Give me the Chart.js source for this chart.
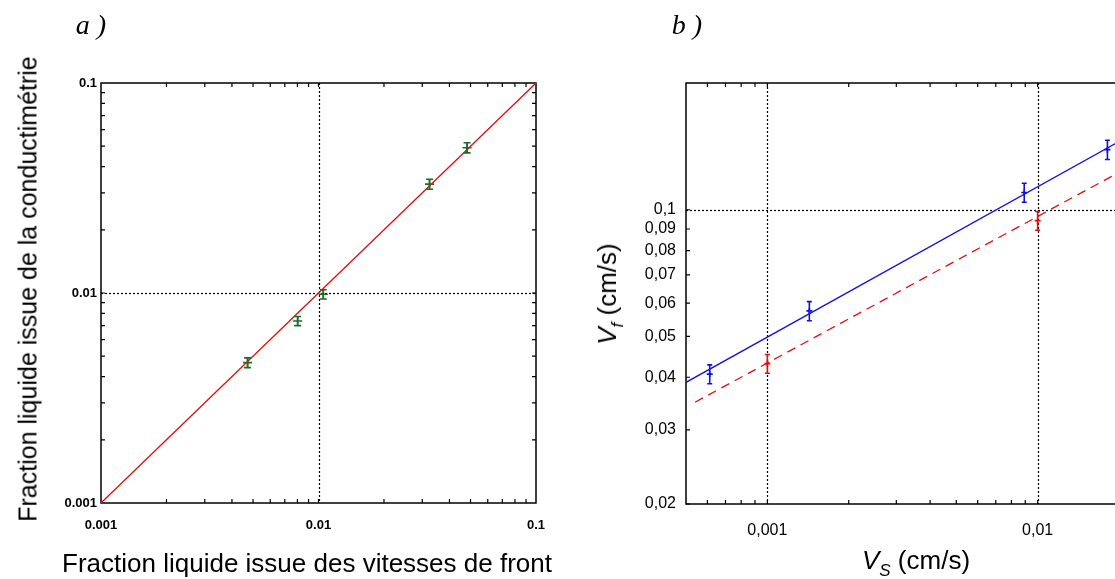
<!DOCTYPE html>
<html>
<head>
<meta charset="utf-8">
<script src="https://cdn.jsdelivr.net/npm/chart.js@4/dist/chart.umd.min.js"></script>
<style>
  html, body { margin: 0; padding: 0; background: #fff; overflow: hidden; }
  body { width: 1115px; height: 579px; position: relative; font-family: Arial, "Liberation Sans", sans-serif; }
  canvas { position: absolute; top: 0; }
  .lab { position: absolute; transform: translate(-50%, -50%); white-space: nowrap; color: #000; }
  .panel { font-family: "Liberation Serif", "DejaVu Serif", serif; font-style: italic; font-size: 28px; }
  .axt { font-size: 26px; }
  .rot { transform: translate(-50%, -50%) rotate(-90deg); }
  sub { font-size: 17px; font-style: italic; vertical-align: -7px; }
</style>
</head>
<body>
<canvas id="chartA" width="580" height="579" style="left:0;width:580px;height:579px"></canvas>
<canvas id="chartB" width="560" height="579" style="left:580px;width:560px;height:579px"></canvas>

<div class="lab panel" style="left:91px;top:25px">a )</div>
<div class="lab panel" style="left:687px;top:25px">b )</div>
<div class="lab axt rot" style="left:28px;top:289px;font-size:25px">Fraction liquide issue de la conductimétrie</div>
<div class="lab axt" style="left:307px;top:563px">Fraction liquide issue des vitesses de front</div>
<div class="lab axt rot" style="left:610px;top:294px"><i>V</i><sub>f</sub> (cm/s)</div>
<div class="lab axt" style="left:916px;top:563px"><i>V</i><sub>S</sub> (cm/s)</div>

<script>
// --- panel a : fraction liquide ---
var fracVitesse = [0.00472, 0.00802, 0.01052, 0.0324, 0.0482];
var fracConduct = [0.00466, 0.00736, 0.00986, 0.0330, 0.0492];
var fracErr     = [0.00025, 0.00037, 0.0005, 0.0018, 0.0027];
var diagX = [0.001, 0.1];
var diagY = [0.001, 0.1];
var ticksA = [0.001, 0.01, 0.1];

// --- panel b : vitesses ---
var vsBlue  = [0.000612, 0.00143, 0.00892, 0.01812];
var vfBlue  = [0.0407, 0.0575, 0.1099, 0.1389];
var errBlue = [0.0021, 0.003, 0.0057, 0.0073];
var vsRed   = [0.001, 0.01];
var vfRed   = [0.0431, 0.0942];
var errRed  = [0.0022, 0.0048];
var fitBlueX = [0.0005, 0.02];
var fitBlueY = [0.0389, 0.1452];
var fitRedX  = [0.00054, 0.019];
var fitRedY  = [0.0349, 0.1205];
var ticksBX = [0.001, 0.01];
var ticksBY = [0.02, 0.03, 0.04, 0.05, 0.06, 0.07, 0.08, 0.09, 0.1];

var FONT = 'Arial, "Liberation Sans", sans-serif';

function pts(xs, ys) {
  return xs.map(function(x, i) { return {x: x, y: ys[i]}; });
}

// minor positions 1..9 x 10^k inside [lo, hi]
function logPositions(lo, hi) {
  var out = [];
  for (var k = -5; k <= 1; k++) {
    for (var n = 1; n <= 9; n++) {
      var v = n * Math.pow(10, k);
      if (v > lo * 1.0001 && v < hi * 0.9999) out.push(v);
    }
  }
  return out;
}

// frame, inward ticks, dotted grid lines
var framePlugin = {
  id: 'frame',
  beforeDatasetsDraw: function(chart, args, o) {
    var ctx = chart.ctx, a = chart.chartArea;
    var xs = chart.scales.x, ys = chart.scales.y;
    ctx.save();
    // dotted lines
    ctx.strokeStyle = '#000';
    ctx.lineWidth = 1.2;
    ctx.setLineDash([2, 2]);
    (o.gridX || []).forEach(function(v) {
      var px = Math.round(xs.getPixelForValue(v)) + 0.5;
      ctx.beginPath(); ctx.moveTo(px, a.top); ctx.lineTo(px, a.bottom); ctx.stroke();
    });
    (o.gridY || []).forEach(function(v) {
      var py = Math.round(ys.getPixelForValue(v)) + 0.5;
      ctx.beginPath(); ctx.moveTo(a.left, py); ctx.lineTo(a.right, py); ctx.stroke();
    });
    ctx.setLineDash([]);
    // frame
    ctx.strokeStyle = '#000';
    ctx.lineWidth = 1.5;
    ctx.strokeRect(a.left, a.top, a.right - a.left, a.bottom - a.top);
    // ticks
    ctx.lineWidth = 1.2;
    var L = 4;
    (o.tickX || []).forEach(function(v) {
      var px = xs.getPixelForValue(v);
      ctx.beginPath();
      ctx.moveTo(px, a.bottom); ctx.lineTo(px, a.bottom - L);
      ctx.moveTo(px, a.top); ctx.lineTo(px, a.top + L);
      ctx.stroke();
    });
    (o.tickY || []).forEach(function(v) {
      var py = ys.getPixelForValue(v);
      ctx.beginPath();
      ctx.moveTo(a.left, py); ctx.lineTo(a.left + L, py);
      ctx.moveTo(a.right, py); ctx.lineTo(a.right - L, py);
      ctx.stroke();
    });
    ctx.restore();
  }
};

// vertical error bars with caps
var errorPlugin = {
  id: 'errbars',
  afterDatasetsDraw: function(chart) {
    var ctx = chart.ctx, xs = chart.scales.x, ys = chart.scales.y;
    chart.data.datasets.forEach(function(ds) {
      if (!ds.yErr) return;
      ctx.save();
      ctx.strokeStyle = ds.borderColor;
      ctx.lineWidth = 1.6;
      ds.data.forEach(function(p, i) {
        var px = xs.getPixelForValue(p.x);
        var y1 = ys.getPixelForValue(p.y - ds.yErr[i]);
        var y2 = ys.getPixelForValue(p.y + ds.yErr[i]);
        var c = ds.capWidth || 3;
        ctx.beginPath();
        ctx.moveTo(px, y1); ctx.lineTo(px, y2);
        ctx.moveTo(px - c, y1); ctx.lineTo(px + c, y1);
        ctx.moveTo(px - c, y2); ctx.lineTo(px + c, y2);
        ctx.stroke();
      });
      ctx.restore();
    });
  }
};

function logScale(min, max, tickVals, fmt, font, pad, fit) {
  return {
    type: 'logarithmic',
    min: min,
    max: max,
    afterBuildTicks: function(s) { s.ticks = tickVals.map(function(v) { return {value: v}; }); },
    ticks: {
      callback: fmt,
      font: font,
      color: '#000',
      padding: pad,
      autoSkip: false,
      maxRotation: 0
    },
    grid: { display: false, drawTicks: false },
    border: { display: false },
    afterFit: fit
  };
}

var dotFmt = function(v) { return String(v); };
var commaFmt = function(v) { return String(v).replace('.', ','); };

// panel a
new Chart(document.getElementById('chartA'), {
  type: 'scatter',
  data: {
    datasets: [{
      data: pts(diagX, diagY),
      showLine: true,
      borderColor: '#e01010',
      borderWidth: 1.3,
      pointRadius: 0
    }, {
      data: pts(fracVitesse, fracConduct),
      yErr: fracErr,
      capWidth: 3.5,
      borderColor: '#1c6a2c',
      backgroundColor: '#1c6a2c',
      pointStyle: 'cross',
      pointRadius: 4.5,
      borderWidth: 1.6
    }]
  },
  options: {
    responsive: false,
    animation: false,
    layout: { padding: { top: 83, right: 44, left: 0, bottom: 0 } },
    plugins: {
      legend: { display: false },
      tooltip: { enabled: false },
      frame: { gridX: [0.01], gridY: [0.01], tickX: logPositions(0.001, 0.1), tickY: logPositions(0.001, 0.1) }
    },
    scales: {
      x: logScale(0.001, 0.1, ticksA, dotFmt, { family: FONT, size: 13, weight: 'bold' }, 15, function(s) { s.height = 76; }),
      y: logScale(0.001, 0.1, ticksA, dotFmt, { family: FONT, size: 13, weight: 'bold' }, 4, function(s) { s.width = 101; })
    }
  },
  plugins: [framePlugin, errorPlugin]
});

// panel b
new Chart(document.getElementById('chartB'), {
  type: 'scatter',
  data: {
    datasets: [{
      data: pts(fitBlueX, fitBlueY),
      showLine: true,
      borderColor: '#1010e0',
      borderWidth: 1.3,
      pointRadius: 0
    }, {
      data: pts(fitRedX, fitRedY),
      showLine: true,
      borderColor: '#e01010',
      borderWidth: 1.3,
      borderDash: [9, 6],
      pointRadius: 0
    }, {
      data: pts(vsBlue, vfBlue),
      yErr: errBlue,
      capWidth: 2.5,
      borderColor: '#1010e0',
      pointStyle: 'cross',
      pointRadius: 3,
      borderWidth: 1.6
    }, {
      data: pts(vsRed, vfRed),
      yErr: errRed,
      capWidth: 2.5,
      borderColor: '#e01010',
      pointStyle: 'cross',
      pointRadius: 3,
      borderWidth: 1.6
    }]
  },
  options: {
    responsive: false,
    animation: false,
    layout: { padding: { top: 83, right: 21, left: 0, bottom: 0 } },
    plugins: {
      legend: { display: false },
      tooltip: { enabled: false },
      frame: { gridX: [0.001, 0.01], gridY: [0.1], tickX: logPositions(0.0005, 0.02), tickY: ticksBY }
    },
    scales: {
      x: logScale(0.0005, 0.02, ticksBX, commaFmt, { family: FONT, size: 16 }, 17, function(s) { s.height = 75; }),
      y: logScale(0.02, 0.2, ticksBY, commaFmt, { family: FONT, size: 16 }, 10, function(s) { s.width = 106; })
    }
  },
  plugins: [framePlugin, errorPlugin]
});
</script>
</body>
</html>
